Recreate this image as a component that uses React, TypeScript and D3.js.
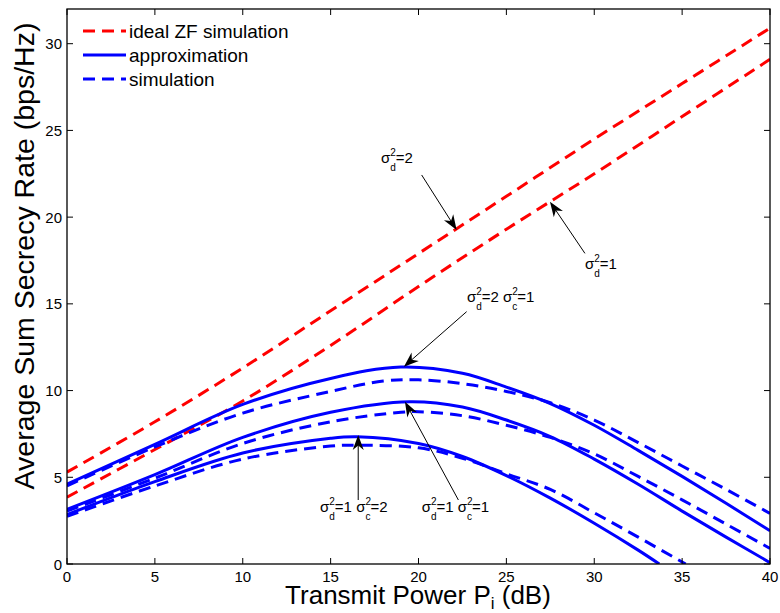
import React from 'react';
import * as d3 from 'd3';

// ---------- data ----------
const xTicks = [0, 5, 10, 15, 20, 25, 30, 35, 40];
const yTicks = [0, 5, 10, 15, 20, 25, 30];

const zfX = [0, 5, 10, 15, 20, 25, 30, 35, 40];
const zfSigmaD2 = [5.3, 8.2, 11.3, 14.6, 17.9, 21.2, 24.5, 27.7, 30.9];
const zfSigmaD1 = [3.85, 6.6, 9.4, 12.6, 16.0, 19.3, 22.5, 25.8, 29.1];

const apxD2C1X = [0, 5, 10, 15, 19, 22.5, 25, 27.5, 30, 32.5, 35, 37.5, 40];
const apxD2C1 = [4.6, 6.9, 9.2, 10.7, 11.36, 11.0, 10.2, 9.25, 8.0, 6.55, 5.05, 3.5, 1.92];
const simD2C1X = [0, 5, 10, 15, 18, 20, 22.5, 25, 27.5, 30, 32.5, 35, 37.5, 40];
const simD2C1 = [4.5, 6.75, 8.7, 9.95, 10.55, 10.62, 10.4, 9.95, 9.3, 8.3, 7.0, 5.65, 4.3, 2.92];

const apxD1C1X = [0, 5, 10, 15, 19.5, 22.5, 25, 27.5, 30, 32.5, 35, 37.5, 40];
const apxD1C1 = [3.15, 5.15, 7.3, 8.75, 9.36, 9.05, 8.3, 7.35, 6.05, 4.6, 3.05, 1.55, 0.08];
const simD1C1X = [0, 5, 10, 15, 19, 20, 22.5, 25, 27.5, 30, 32.5, 35, 37.5, 40];
const simD1C1 = [3.05, 4.95, 6.95, 8.2, 8.75, 8.78, 8.55, 8.0, 7.3, 6.35, 5.05, 3.7, 2.3, 0.9];

const apxD1C2X = [0, 5, 10, 15, 16.5, 20, 22.5, 25, 27.5, 30, 32.5, 33.7];
const apxD1C2 = [2.85, 4.75, 6.4, 7.25, 7.34, 6.95, 6.2, 5.1, 3.8, 2.35, 0.8, 0];
const simD1C2X = [0, 5, 10, 15, 16.5, 20, 22.5, 25, 27.5, 30, 32.5, 35.2];
const simD1C2 = [2.75, 4.5, 6.05, 6.8, 6.85, 6.7, 6.1, 5.2, 4.3, 2.95, 1.55, 0];

const legendLabels = ['ideal ZF simulation', 'approximation', 'simulation'];

// annotations (data units): text start, arrow tail, arrow tip
const annTextX = [17.87, 29.47, 22.76, 14.4, 20.18];
const annTextY = [23.12, 17.0, 15.11, 3.0, 3.0];
const annTailX = [20.18, 29.47, 22.74, 16.57, 22.27];
const annTailY = [22.43, 17.91, 14.55, 3.69, 3.69];
const annTipX = [22.17, 27.48, 19.17, 16.57, 19.23];
const annTipY = [19.26, 20.89, 11.38, 7.44, 9.36];
const annParts: string[][][] = [
  [['d', '=2']],
  [['d', '=1']],
  [['d', '=2'], ['c', '=1']],
  [['d', '=1'], ['c', '=2']],
  [['d', '=1'], ['c', '=1']],
];

// ---------- layout ----------
const W = 780, H = 613;
const L = 67, R = 770, T = 9, B = 564;
const FONT = 'Liberation Sans, Arial, Helvetica, sans-serif';

const x = d3.scaleLinear().domain([0, 40]).range([L, R]);
const y = d3.scaleLinear().domain([0, 32]).range([B, T]);

const line = d3
  .line<[number, number]>()
  .x((d) => x(d[0]))
  .y((d) => y(d[1]))
  .curve(d3.curveCatmullRom.alpha(0.5));

const zip = (xs: number[], ys: number[]) => xs.map((v, i) => [v, ys[i]] as [number, number]);

const RED = '#ff0000';
const BLUE = '#0000ff';
const DASH = '12,7';

const series = [
  { d: zip(zfX, zfSigmaD2), c: RED, dash: true },
  { d: zip(zfX, zfSigmaD1), c: RED, dash: true },
  { d: zip(apxD2C1X, apxD2C1), c: BLUE, dash: false },
  { d: zip(simD2C1X, simD2C1), c: BLUE, dash: true },
  { d: zip(apxD1C1X, apxD1C1), c: BLUE, dash: false },
  { d: zip(simD1C1X, simD1C1), c: BLUE, dash: true },
  { d: zip(apxD1C2X, apxD1C2), c: BLUE, dash: false },
  { d: zip(simD1C2X, simD1C2), c: BLUE, dash: true },
];

function Arrow({ x1, y1, x2, y2 }: { x1: number; y1: number; x2: number; y2: number }) {
  const ang = Math.atan2(y2 - y1, x2 - x1);
  const deg = (ang * 180) / Math.PI;
  const Lh = 15, Wh = 11;
  return (
    <g>
      <line x1={x1} y1={y1} x2={x2 - Math.cos(ang) * 8} y2={y2 - Math.sin(ang) * 8} stroke="#000" strokeWidth={1} />
      <polygon
        points={`0,0 ${-Lh},${Wh / 2} ${-Lh * 0.7},0 ${-Lh},${-Wh / 2}`}
        fill="#000"
        transform={`translate(${x2},${y2}) rotate(${deg})`}
      />
    </g>
  );
}

function SigmaLabel({ px, py, parts }: { px: number; py: number; parts: string[][] }) {
  const children: React.ReactNode[] = [];
  parts.forEach((p, i) => {
    children.push(<tspan key={`s${i}`} fontSize={15}>{(i > 0 ? '\u00a0' : '') + 'σ'}</tspan>);
    children.push(<tspan key={`u${i}`} fontSize={10} dy={-7}>2</tspan>);
    children.push(<tspan key={`b${i}`} fontSize={10} dx={-5.6} dy={15}>{p[0]}</tspan>);
    children.push(<tspan key={`r${i}`} fontSize={15} dy={-8}>{p[1]}</tspan>);
  });
  return (
    <text x={px} y={py} fontFamily={FONT} fill="#000">
      {children}
    </text>
  );
}

export default function App() {
  return (
    <svg
      width={W}
      height={H}
      style={{ position: 'absolute', left: 0, top: 0, background: '#fff' }}
      fontFamily={FONT}
    >
      <rect x={0} y={0} width={W} height={H} fill="#fff" />
      <defs>
        <clipPath id="plot">
          <rect x={L} y={T} width={R - L} height={B - T} />
        </clipPath>
      </defs>

      {/* curves */}
      <g clipPath="url(#plot)">
        {series.map((s, i) => (
          <path
            key={i}
            d={line(s.d) || ''}
            fill="none"
            stroke={s.c}
            strokeWidth={3}
            strokeDasharray={s.dash ? DASH : undefined}
          />
        ))}
      </g>

      {/* axes box */}
      <rect x={L} y={T} width={R - L} height={B - T} fill="none" stroke="#000" strokeWidth={1.3} />
      {xTicks.map((t) => (
        <g key={`xt${t}`}>
          <line x1={x(t)} x2={x(t)} y1={B} y2={B - 6} stroke="#000" strokeWidth={1} />
          <line x1={x(t)} x2={x(t)} y1={T} y2={T + 6} stroke="#000" strokeWidth={1} />
          <text x={x(t)} y={582} textAnchor="middle" fontSize={15} fill="#000">
            {t}
          </text>
        </g>
      ))}
      {yTicks.map((t) => (
        <g key={`yt${t}`}>
          <line x1={L} x2={L + 6} y1={y(t)} y2={y(t)} stroke="#000" strokeWidth={1} />
          <line x1={R} x2={R - 6} y1={y(t)} y2={y(t)} stroke="#000" strokeWidth={1} />
          <text x={62} y={y(t) + 5.5} textAnchor="end" fontSize={15} fill="#000">
            {t}
          </text>
        </g>
      ))}

      {/* axis labels */}
      <text x={418} y={604} textAnchor="middle" fontSize={26} fill="#000">
        Transmit Power P<tspan fontSize={17} dy={5}>i</tspan>
        <tspan dy={-5}> (dB)</tspan>
      </text>
      <text
        transform={`translate(34,256) rotate(-90)`}
        textAnchor="middle"
        fontSize={28.5}
        fill="#000"
      >
        Average Sum Secrecy Rate (bps/Hz)
      </text>

      {/* legend */}
      {legendLabels.map((lab, i) => {
        const by = 37.5 + i * 24;
        const col = i === 0 ? RED : BLUE;
        const dashed = i !== 1;
        return (
          <g key={lab}>
            <line
              x1={83}
              x2={126}
              y1={by - 6.5}
              y2={by - 6.5}
              stroke={col}
              strokeWidth={3}
              strokeDasharray={dashed ? DASH : undefined}
            />
            <text x={129} y={by} fontSize={19} fill="#000">
              {lab}
            </text>
          </g>
        );
      })}

      {/* annotations */}
      {annParts.map((parts, i) => (
        <g key={`ann${i}`}>
          <Arrow x1={x(annTailX[i])} y1={y(annTailY[i])} x2={x(annTipX[i])} y2={y(annTipY[i])} />
          <SigmaLabel px={x(annTextX[i])} py={y(annTextY[i])} parts={parts} />
        </g>
      ))}
    </svg>
  );
}
